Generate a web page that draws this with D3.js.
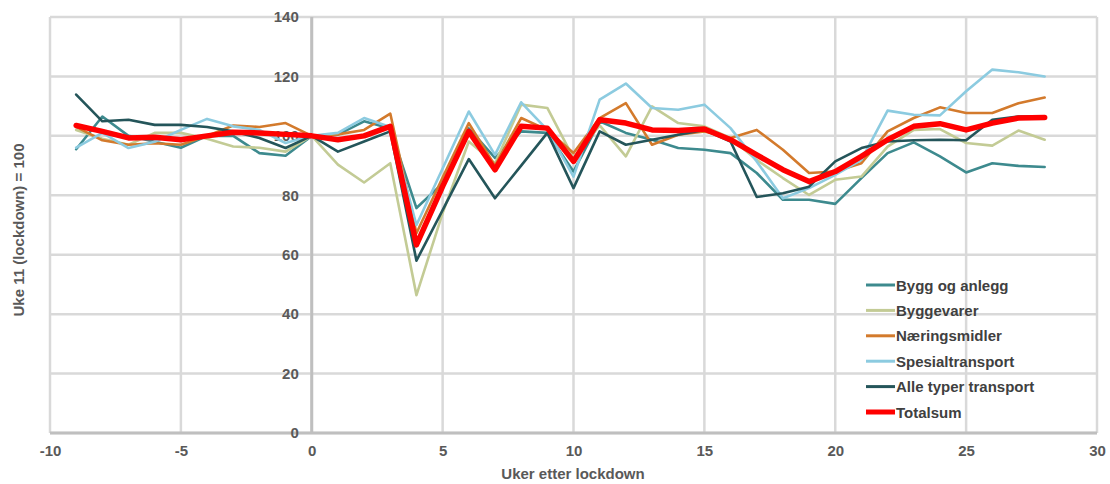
<!DOCTYPE html>
<html>
<head>
<meta charset="utf-8">
<script src="https://cdn.jsdelivr.net/npm/d3@7"></script>
<style>
  html, body { margin: 0; padding: 0; background: #fff; }
  svg { display: block; font-family: "Liberation Sans", Arial, sans-serif; }
</style>
</head>
<body>
<svg id="chart" width="1110" height="484"></svg>
<script>
// Weeks relative to lockdown (week 11 = 0)
const weeks = d3.range(-9, 29);

const byggOgAnlegg = [95.5, 106.5, 100, 98, 96, 100, 100, 94.2, 93.3, 100, 100.4, 104.9, 102.5, 75.7, 84, 102.5, 92.6, 101.5, 101, 88, 104.9, 101, 98.7, 95.9, 95.3, 94.2, 87.5, 78.5, 78.5, 77.1, 85.8, 94.2, 97.8, 93.1, 87.7, 90.8, 89.9, 89.5];
const byggevarer = [102, 99, 97, 101, 101, 99, 96.4, 96, 94.7, 100, 90.3, 84.3, 90.8, 46.4, 74, 98.1, 90.8, 110.5, 109.4, 92.5, 103.5, 93.1, 109.9, 104.3, 103.2, 99.3, 91.9, 85.8, 80.1, 85.2, 86.3, 96.4, 102, 102.3, 97.6, 96.7, 101.8, 98.7];
const naeringsmidler = [103, 98.5, 97, 97.5, 97, 100, 103.5, 103, 104.3, 100, 100.5, 102, 107.5, 67.2, 86, 104.3, 90, 106, 102, 94.2, 106, 111, 97, 100.4, 101.5, 99.3, 102, 95.3, 87.5, 88, 90.8, 101.5, 106, 109.6, 107.7, 107.7, 111, 112.9];
const spesialtransport = [96, 101, 95.9, 98, 102, 105.7, 103.2, 102, 97.6, 100, 101, 106, 103, 70, 89, 108.2, 93.6, 111.3, 102, 86.3, 112.2, 117.6, 109.4, 108.8, 110.5, 102.6, 91.4, 79, 82.4, 86.9, 91.9, 108.5, 107.1, 106.9, 115, 122.3, 121.4, 120];
const alleTyperTransport = [113.9, 104.9, 105.4, 103.7, 103.7, 103, 101.5, 99.3, 95.9, 100, 94.7, 98.1, 101.5, 58, 75, 92.2, 79, 90, 101, 82.4, 101.5, 97, 98.7, 100.4, 102, 98.1, 79.4, 80.7, 82.9, 91.4, 95.9, 98.1, 98.5, 98.7, 98.5, 105.4, 106.5, 106.5];
const totalsum = [103.5, 101.5, 99.3, 99.5, 98.7, 100, 101.2, 101, 100.5, 100, 98.7, 100, 103.2, 63.3, 83, 101.5, 88.6, 103.2, 102.6, 91.4, 105.4, 104.3, 102, 101.8, 102.3, 98.7, 93.6, 88.6, 84.6, 88, 93.1, 98.7, 103.2, 104.1, 102, 104.3, 106, 106.2];

const seriesNames = ["Bygg og anlegg", "Byggevarer", "Næringsmidler", "Spesialtransport", "Alle typer transport", "Totalsum"];
const seriesValues = [byggOgAnlegg, byggevarer, naeringsmidler, spesialtransport, alleTyperTransport, totalsum];
const seriesColors = ["#3d8a8e", "#c3cb95", "#d37a2c", "#8ccbe0", "#24555a", "#ff0000"];
const seriesWidths = [2.6, 2.6, 2.6, 2.6, 2.6, 5.5];

const xTicks = [-10, -5, 0, 5, 10, 15, 20, 25, 30];
const yTicks = [0, 20, 40, 60, 80, 100, 120, 140];

const svg = d3.select("#chart");
const plotLeft = 50, plotRight = 1097, plotTop = 17, plotBottom = 433;

const x = d3.scaleLinear().domain([-10, 30]).range([plotLeft, plotRight]);
const y = d3.scaleLinear().domain([0, 140]).range([plotBottom, plotTop]);

const textColor = "#595959";
const gridColor = "#d9d9d9";
const axisColor = "#bfbfbf";
const fontSize = 15;

// Grid
const grid = svg.append("g");
grid.selectAll("line.v").data(xTicks).join("line")
  .attr("class", "v")
  .attr("x1", d => x(d)).attr("x2", d => x(d))
  .attr("y1", y(0)).attr("y2", y(140))
  .attr("stroke", gridColor).attr("stroke-width", 2.5);
grid.selectAll("line.h").data(yTicks).join("line")
  .attr("class", "h")
  .attr("x1", x(-10)).attr("x2", x(30))
  .attr("y1", d => y(d)).attr("y2", d => y(d))
  .attr("stroke", gridColor).attr("stroke-width", 2.5);

// Axis lines (x = 0 and y = 0)
svg.append("line")
  .attr("x1", x(0)).attr("x2", x(0)).attr("y1", y(0)).attr("y2", y(140))
  .attr("stroke", axisColor).attr("stroke-width", 3);
svg.append("line")
  .attr("x1", x(-10)).attr("x2", x(30)).attr("y1", y(0)).attr("y2", y(0))
  .attr("stroke", axisColor).attr("stroke-width", 3);

// Y axis labels, placed beside the x = 0 axis
const yAxis = d3.axisLeft(y).tickValues(yTicks).tickSize(0).tickPadding(13)
  .tickFormat(d => String(d));
const yg = svg.append("g").attr("transform", `translate(${x(0)},0)`).call(yAxis);
yg.select(".domain").remove();
yg.selectAll("text")
  .attr("fill", textColor).attr("font-size", fontSize).attr("font-weight", "bold")
  .attr("font-family", "'Liberation Sans', Arial, sans-serif");

// X axis labels (plain hyphen for negatives)
const xAxis = d3.axisBottom(x).tickValues(xTicks).tickSize(0).tickPadding(12)
  .tickFormat(d => String(d));
const xg = svg.append("g").attr("transform", `translate(0,${y(0)})`).call(xAxis);
xg.select(".domain").remove();
xg.selectAll("text")
  .attr("fill", textColor).attr("font-size", fontSize).attr("font-weight", "bold")
  .attr("font-family", "'Liberation Sans', Arial, sans-serif");

// Axis titles
svg.append("text")
  .attr("x", 573).attr("y", 479)
  .attr("text-anchor", "middle")
  .attr("fill", textColor).attr("font-size", fontSize).attr("font-weight", "bold")
  .text("Uker etter lockdown");
svg.append("text")
  .attr("transform", "translate(24,230) rotate(-90)")
  .attr("text-anchor", "middle")
  .attr("fill", textColor).attr("font-size", fontSize).attr("font-weight", "bold")
  .text("Uke 11 (lockdown) = 100");

// Lines
const line = d3.line().x((d, i) => x(weeks[i])).y(d => y(d));
const lines = svg.append("g");
seriesValues.forEach((vals, k) => {
  lines.append("path")
    .datum(vals)
    .attr("fill", "none")
    .attr("stroke", seriesColors[k])
    .attr("stroke-width", seriesWidths[k])
    .attr("stroke-linejoin", "round")
    .attr("stroke-linecap", "round")
    .attr("d", line);
});

// Legend
const legend = svg.append("g").attr("transform", "translate(866,285)");
seriesNames.forEach((name, k) => {
  const row = legend.append("g").attr("transform", `translate(0,${k * 25.4})`);
  row.append("line")
    .attr("x1", 0).attr("x2", 29).attr("y1", 0).attr("y2", 0)
    .attr("stroke", seriesColors[k]).attr("stroke-width", seriesWidths[k] === 5.5 ? 5 : 3);
  row.append("text")
    .attr("x", 30).attr("y", 5.5)
    .attr("fill", "#404040").attr("font-size", fontSize).attr("font-weight", "bold")
    .text(name);
});
</script>
</body>
</html>
